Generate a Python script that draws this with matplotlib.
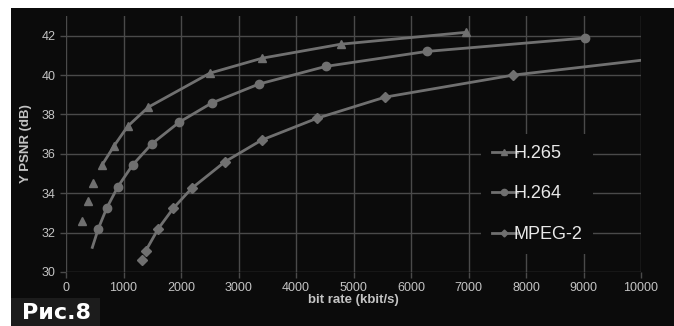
import matplotlib
matplotlib.use('Agg')
import matplotlib.pyplot as plt
from matplotlib.patches import Rectangle

plt.rcParams['font.family'] = ['Liberation Sans', 'DejaVu Sans']

# H.265 - нижние точки без линии
h265_rate = [273, 377, 475, 631, 835, 1073, 1431, 2504, 3414, 4783, 6951]
h265_psnr = [32.6, 33.6, 34.5, 35.45, 36.4, 37.4, 38.37, 40.1, 40.86, 41.57, 42.17]

# H.264 - линия начинается чуть ниже первой точки
h264_rate = [458, 562, 707, 904, 1160, 1490, 1965, 2533, 3351, 4516, 6272, 9026]
h264_psnr = [31.25, 32.2, 33.24, 34.34, 35.44, 36.5, 37.6, 38.58, 39.54, 40.44, 41.2, 41.88]

# MPEG-2 - линия доходит до 10000
mpeg2_rate = [1316, 1386, 1605, 1867, 2186, 2765, 3403, 4359, 5548, 7780, 10000]
mpeg2_psnr = [30.6, 31.07, 32.2, 33.24, 34.25, 35.6, 36.7, 37.8, 38.88, 40.0, 40.75]

xticks = [0, 1000, 2000, 3000, 4000, 5000, 6000, 7000, 8000, 9000, 10000]
yticks = [30, 32, 34, 36, 38, 40, 42]

col = '#707070'
grid_col = '#4a4a4a'
txt_col = '#c4c4c4'

fig = plt.figure(figsize=(6.74, 3.26), dpi=100)
fig.patch.set_facecolor('white')
fig.patches.append(Rectangle((11/674, 0), 1, 1 - 8/326, transform=fig.transFigure,
                             facecolor='#0b0b0b', edgecolor='none', zorder=-10))

ax = fig.add_axes([66/674, 54/326, (641-66)/674, (310-54)/326])
ax.set_facecolor('none')

ax.plot(h265_rate[3:], h265_psnr[3:], color=col, lw=2, zorder=3)
ax.plot(h265_rate, h265_psnr, ls='none', marker='^', ms=6, color=col, zorder=3)
ax.plot([], [], color=col, lw=2, marker='^', ms=4.5, label='H.265')

ax.plot(h264_rate, h264_psnr, color=col, lw=2, marker='o', ms=6, markevery=list(range(1, len(h264_rate))),
        zorder=3)
ax.plot([], [], color=col, lw=2, marker='o', ms=4.5, label='H.264')

ax.plot(mpeg2_rate[1:], mpeg2_psnr[1:], color=col, lw=2, zorder=3)
ax.plot(mpeg2_rate[:-1], mpeg2_psnr[:-1], ls='none', marker='D', ms=5, color=col, zorder=3)
ax.plot([], [], color=col, lw=2, marker='D', ms=3.5, label='MPEG-2')

ax.set_xlim(0, 10000)
ax.set_ylim(30, 43)
ax.set_xticks(xticks)
ax.set_yticks(yticks)
ax.grid(True, color=grid_col, lw=1)
for s in ax.spines.values():
    s.set_visible(False)
ax.tick_params(colors=grid_col, labelcolor=txt_col, labelsize=9, length=4, width=1)

ax.set_xlabel('bit rate (kbit/s)', color=txt_col, fontsize=9.5, fontweight='bold', labelpad=0)
ax.set_ylabel('Y PSNR (dB)', color=txt_col, fontsize=9.5, fontweight='bold')
ax.yaxis.set_label_coords(-0.059, 0.5)

leg = ax.legend(loc='center left', bbox_to_anchor=(0.706, 0.305), frameon=True, fontsize=13,
                labelspacing=1.3, handlelength=1.4, handletextpad=-0.2, borderpad=0.6)
leg.get_frame().set_facecolor('#0b0b0b')
leg.get_frame().set_edgecolor('none')
leg.get_frame().set_alpha(1)
for t in leg.get_texts():
    t.set_color('#e8e8e8')

fig.patches.append(Rectangle((11/674, 0), 89/674, 28/326, transform=fig.transFigure,
                             facecolor='#1c1c1c', edgecolor='none', zorder=5))
fig.text(22/674, 13/326, 'Рис.8', color='white', fontsize=16, fontweight='bold',
         family='DejaVu Sans', va='center', ha='left', zorder=6)

fig.savefig('out.png', dpi=100)
